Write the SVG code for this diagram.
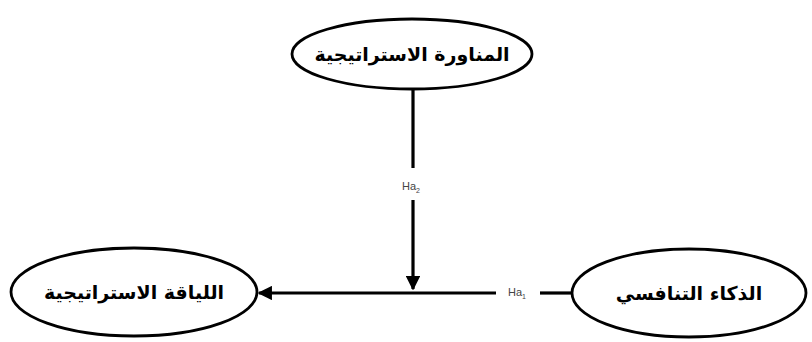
<svg xmlns="http://www.w3.org/2000/svg" width="812" height="342" viewBox="0 0 812 342">
<style>
.node ellipse{fill:#fff;stroke:#000;stroke-width:2.8}
.node text{font-family:"DejaVu Sans","Noto Sans",sans-serif;font-weight:bold;font-size:19px;text-anchor:middle;fill:#000}
.lbl{font-family:"Liberation Sans",Arial,sans-serif;font-size:11px;fill:#444;text-anchor:middle}
.lbl tspan{font-size:7px}
.conn line{stroke:#000;stroke-width:3.2}
</style>
<defs>
<marker id="ah" viewBox="0 0 10 10" refX="9" refY="5" markerWidth="4.5" markerHeight="4.5" orient="auto" markerUnits="strokeWidth">
<path d="M0,0 L10,5 L0,10 z" fill="#000"/>
</marker>
</defs>
<rect width="812" height="342" fill="#fff"/>
<g id="n-top" class="node">
<ellipse cx="412" cy="54" rx="120" ry="35"/>
<text x="412" y="61" direction="rtl">المناورة الاستراتيجية</text>
</g>
<g id="n-left" class="node">
<ellipse cx="134" cy="292" rx="123" ry="44"/>
<text x="134" y="299" direction="rtl">اللياقة الاستراتيجية</text>
</g>
<g id="n-right" class="node">
<ellipse cx="689" cy="293" rx="117" ry="44"/>
<text x="689" y="300" direction="rtl">الذكاء التنافسي</text>
</g>
<g id="connectors" class="conn">
<line x1="413" y1="90" x2="413" y2="168"/>
<line x1="413" y1="200" x2="413" y2="289" marker-end="url(#ah)"/>
<line x1="572" y1="293" x2="540" y2="293"/>
<line x1="496" y1="293" x2="259" y2="293" marker-end="url(#ah)"/>
</g>
<text class="lbl" x="411" y="190">Ha<tspan dy="3">2</tspan></text>
<text class="lbl" x="517" y="296">Ha<tspan dy="3">1</tspan></text>
</svg>
